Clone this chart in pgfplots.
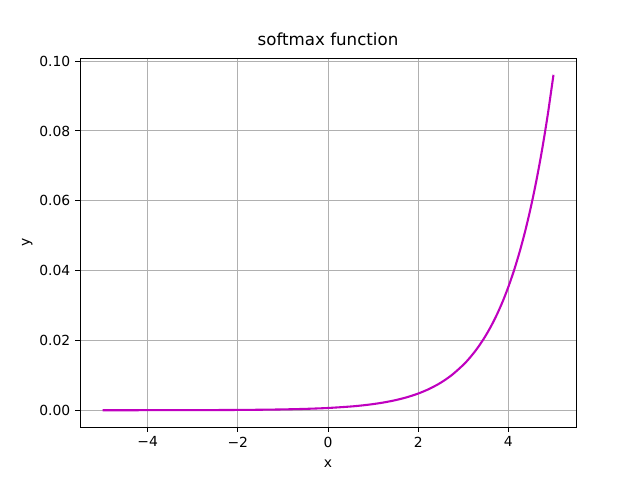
\documentclass[border=0pt]{standalone}
\usepackage{fontspec}
\setmainfont{DejaVu Sans}
\usepackage{pgfplots}
\pgfplotsset{compat=1.18}
\definecolor{mplm}{rgb}{0.75,0,0.75}
\definecolor{gridgray}{HTML}{B0B0B0}

\pgfplotstableread{
x y
-5.0 0.0000044
-4.5 0.0000072
-4.0 0.0000119
-3.5 0.0000196
-3.0 0.0000322
-2.5 0.0000531
-2.0 0.0000876
-1.5 0.000144
-1.0 0.000238
-0.5 0.000393
0.0 0.000647
0.5 0.001067
0.75 0.00137
1.0 0.00176
1.25 0.00226
1.5 0.002901
1.75 0.003725
2.0 0.004784
2.25 0.006142
2.5 0.007887
2.75 0.010127
3.0 0.013003
3.125 0.014735
3.25 0.016696
3.375 0.018919
3.5 0.021438
3.625 0.024292
3.75 0.027528
3.875 0.031192
4.0 0.035347
4.125 0.040053
4.25 0.045386
4.375 0.051429
4.5 0.058276
4.625 0.066035
4.75 0.074829
4.875 0.084791
5.0 0.096081
}\softmaxdata

\begin{document}
\begin{tikzpicture}
\useasboundingbox (0,0) rectangle (460.8pt,345.6pt);
\begin{axis}[
    at={(57.6pt,38.16pt)}, anchor=south west,
    scale only axis,
    width=357.12pt, height=265.68pt,
    xmin=-5.5, xmax=5.5,
    ymin=-0.0048, ymax=0.1009,
    xtick={-4,-2,0,2,4},
    xticklabels={−4,−2,0,2,4},
    ytick={0,0.02,0.04,0.06,0.08,0.1},
    yticklabels={0.00,0.02,0.04,0.06,0.08,0.10},
    tick align=outside,
    major tick length=3.5pt,
    tick style={black, line width=0.7pt},
    axis line style={line width=0.7pt},
    xtick pos=bottom, ytick pos=left,
    grid=major,
    major grid style={gridgray, line width=0.7pt},
    ticklabel style={font=\fontsize{10}{12}\selectfont},
    title={softmax function},
    title style={font=\fontsize{12}{14}\selectfont, yshift=-1pt},
    xlabel={x}, ylabel={y},
    xlabel style={yshift=-2pt},
    ylabel style={yshift=-2pt},
    label style={font=\fontsize{10}{12}\selectfont},
]
\addplot[mplm, line width=1.5pt, smooth] table[x=x, y=y] {\softmaxdata};
\end{axis}
\end{tikzpicture}
\end{document}
